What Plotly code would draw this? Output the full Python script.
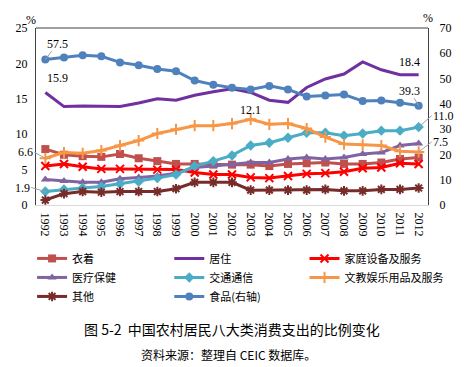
import plotly.graph_objects as go

years = [str(y) for y in range(1992, 2013)]

clothing = [7.9, 7.1, 6.9, 6.8, 7.2, 6.6, 6.2, 5.8, 5.8, 5.7, 5.7, 5.7, 5.5, 5.8, 5.9, 6.0, 5.8, 5.8, 6.0, 6.5, 6.7]
housing = [15.9, 13.9, 14.0, 13.9, 13.9, 14.4, 15.0, 14.8, 15.5, 16.0, 16.4, 15.9, 14.8, 14.5, 16.6, 17.8, 18.5, 20.2, 19.1, 18.4, 18.4]
household = [5.5, 5.8, 5.4, 5.1, 5.1, 5.1, 5.0, 5.0, 4.6, 4.3, 4.3, 3.9, 3.8, 4.1, 4.4, 4.5, 4.7, 5.2, 5.3, 5.9, 5.8]
medical = [3.6, 3.4, 3.2, 3.2, 3.7, 3.9, 4.1, 4.5, 5.3, 5.5, 5.7, 6.0, 6.0, 6.5, 6.7, 6.5, 6.7, 7.2, 7.4, 8.4, 8.7]
transport = [1.9, 2.2, 2.4, 2.6, 3.0, 3.3, 3.8, 4.3, 5.5, 6.2, 7.0, 8.4, 8.8, 9.5, 10.2, 10.2, 9.8, 10.1, 10.5, 10.5, 11.0]
education = [6.6, 7.4, 7.3, 7.7, 8.4, 9.1, 10.1, 10.7, 11.2, 11.2, 11.5, 12.1, 11.4, 11.5, 10.8, 9.6, 8.6, 8.5, 8.4, 7.6, 7.5]
others = [0.7, 1.6, 1.9, 1.8, 1.9, 1.9, 1.9, 2.3, 3.2, 3.2, 3.2, 2.1, 2.1, 2.1, 2.1, 2.2, 2.0, 2.0, 2.2, 2.2, 2.4]
food = [57.5, 58.3, 59.2, 58.8, 56.4, 55.3, 53.8, 52.9, 49.2, 47.6, 46.4, 45.7, 47.1, 45.7, 42.9, 43.3, 43.7, 41.1, 41.3, 40.4, 39.3]

left_ticks = [0, 5, 10, 15, 20, 25]
right_ticks = [0, 10, 20, 30, 40, 50, 60, 70]

names = ["衣着", "居住", "家庭设备及服务", "医疗保健", "交通通信", "文教娱乐用品及服务", "其他", "食品(右轴)"]
colors = ["#C0504D", "#7030A0", "#FF0000", "#8064A2", "#4BACC6", "#F79646", "#772C2A", "#4F81BD"]
symbols = ["square", None, "x-thin-open", "triangle-up", "diamond", "cross-thin-open", "asterisk-open", "circle"]
series = [clothing, housing, household, medical, transport, education, others, food]
legends = ["legend", "legend2", "legend3", "legend", "legend2", "legend3", "legend", "legend2"]

fig = go.Figure()
order = [7, 1, 0, 2, 3, 4, 5, 6]
for i in order:
    sym = symbols[i]
    thin = sym is not None and ("thin" in sym or sym == "asterisk-open")
    marker = dict(symbol=sym or "circle", size=8 if sym else 1, color=colors[i],
                  line=dict(color=colors[i], width=2 if thin else 0))
    fig.add_trace(go.Scatter(
        x=years, y=series[i], name=names[i],
        mode="lines+markers" if sym else "lines",
        line=dict(color=colors[i], width=3),
        marker=marker,
        yaxis="y2" if i == 7 else "y",
        legend=legends[i],
        legendrank=i,
    ))

num_font = dict(family="Liberation Serif, Times New Roman, serif", size=12, color="black")
cjk = "Noto Sans CJK SC, sans-serif"

ann = []
def lab(idx, y, text, yref="y", ax=0, ay=-14, arrow=False, xanchor="center"):
    d = dict(x=idx, y=y, xref="x", yref=yref, text=text, showarrow=arrow,
             xanchor=xanchor, font=num_font, borderpad=0)
    if arrow:
        d.update(ax=ax, ay=ay, arrowhead=0, arrowwidth=1, arrowcolor="#A0A0A0", standoff=0)
    else:
        d.update(xshift=ax, yshift=-ay)
    ann.append(d)

lab(0, food[0], "57.5", yref="y2", ax=12, ay=-16, arrow=True)
lab(0, housing[0], "15.9", ax=12, ay=-14)
lab(11, education[11], "12.1", ay=-9)
lab(20, housing[20], "18.4", ax=-9, ay=-13)
lab(20, food[20], "39.3", yref="y2", ax=-9, ay=-15, arrow=True)
lab(20, transport[20], "11.0", ax=13, ay=-11.5, arrow=True, xanchor="left")
lab(20, education[20], "7.5", ax=13, ay=-10, arrow=True, xanchor="left")
lab(0, education[0], "6.6", ax=-11, ay=-6, arrow=True, xanchor="right")
lab(0, transport[0], "1.9", ax=-14, ay=-4, arrow=True, xanchor="right")

ann.append(dict(x=-0.013, y=1.045, xref="paper", yref="paper", text="%", showarrow=False,
                font=num_font, xanchor="center", yanchor="middle"))
ann.append(dict(x=1.0, y=1.056, xref="paper", yref="paper", text="%", showarrow=False,
                font=num_font, xanchor="center", yanchor="middle"))
ann.append(dict(x=0.5, y=-0.70, xref="paper", yref="paper",
                text="图 5-2  中国农村居民八大类消费支出的比例变化", showarrow=False,
                font=dict(family=cjk, size=14, color="black"), xanchor="center", yanchor="middle"))
ann.append(dict(x=0.49, y=-0.845, xref="paper", yref="paper",
                text="资料来源：整理自 CEIC 数据库。", showarrow=False,
                font=dict(family=cjk, size=12, color="black"), xanchor="center", yanchor="middle"))

leg_common = dict(orientation="v", yanchor="top", xanchor="left", bgcolor="rgba(0,0,0,0)",
                  font=dict(family=cjk, size=11, color="black"), tracegroupgap=0,
                  itemwidth=30)
# The page body has an 8px margin, so the figure is laid out 8px smaller.
fig.update_layout(
    width=456, height=359,
    margin=dict(l=28, r=36, t=20, b=162, autoexpand=False),
    plot_bgcolor="white", paper_bgcolor="white",
    showlegend=True,
    legend=dict(x=-0.01, y=-0.22, **leg_common),
    legend2=dict(x=0.34, y=-0.22, **leg_common),
    legend3=dict(x=0.685, y=-0.22, **leg_common),
    xaxis=dict(type="category", tickangle=90, tickfont=num_font, showline=True,
               linecolor="#D9D9D9", linewidth=1, ticks="", showgrid=False,
               range=[-0.5, 20.5], ticklabelstandoff=4),
    yaxis=dict(range=[0, 25], tickvals=left_ticks, tickfont=num_font, showline=True,
               linecolor="#404040", linewidth=1, ticks="", showgrid=False, zeroline=False,
               ticklabelstandoff=5),
    yaxis2=dict(range=[0, 70], tickvals=right_ticks, tickfont=num_font, overlaying="y",
                side="right", showline=True, linecolor="#404040", linewidth=1, ticks="",
                showgrid=False, zeroline=False, ticklabelstandoff=8),
    annotations=ann,
    shapes=[dict(type="line", xref="paper", yref="paper", x0=0, x1=1, y0=1, y1=1,
                 line=dict(color="#404040", width=1))],
)
fig.write_html("out.html")
